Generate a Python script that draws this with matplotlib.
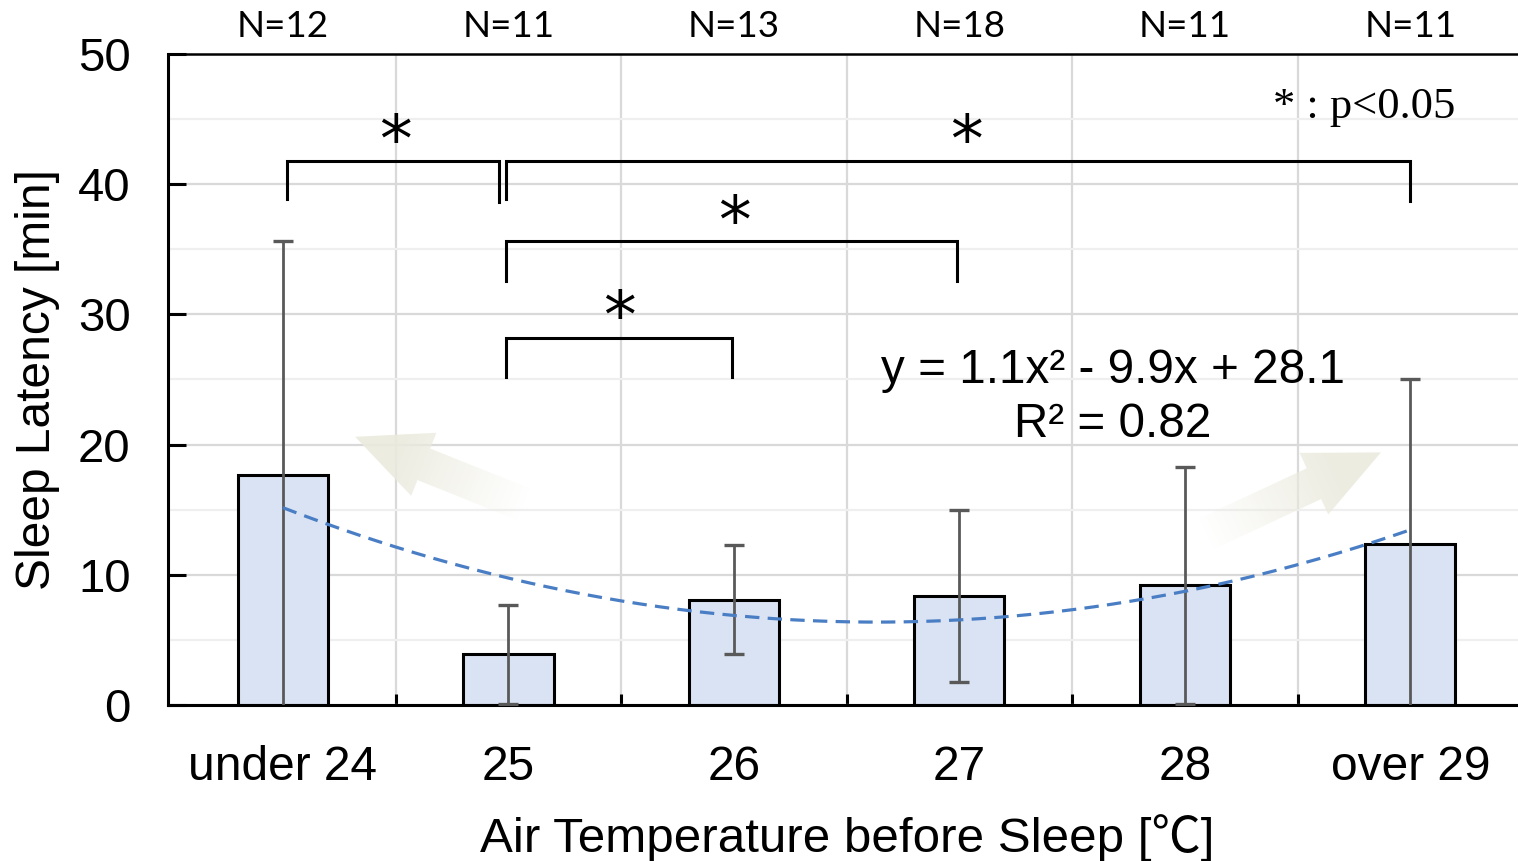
import numpy as np
import matplotlib.pyplot as plt
from matplotlib.patches import Polygon

plt.rcParams['font.family'] = ['Liberation Sans', 'Noto Sans CJK JP', 'DejaVu Sans']

categories = ["under 24", "25", "26", "27", "28", "over 29"]
n_counts = [12, 11, 13, 18, 11, 11]
latency_mean = [17.7, 3.9, 8.1, 8.4, 9.2, 12.4]
latency_sd = [17.9, 3.8, 4.2, 6.6, 9.1, 12.6]
# dashed quadratic trend line as drawn in the source, read at each category
trend_vals = [15.1, 9.8, 7.0, 6.4, 8.7, 13.5]
trend_label = "y = 1.1x\u00b2 - 9.9x + 28.1\nR\u00b2 = 0.82"

# significance brackets: x left, x right, y top, left leg end, right leg end
brk_left = [0.02, 0.99, 0.99, 0.99]
brk_right = [0.96, 5.0, 2.99, 1.99]
brk_top = [41.8, 41.8, 35.6, 28.2]
brk_leg_l = [38.9, 38.9, 32.6, 25.2]
brk_leg_r = [38.6, 38.7, 32.6, 25.2]
star_x = [0.5, 3.03, 2.0, 1.49]
star_y = [43.1, 43.1, 36.9, 29.6]

# decorative arrows (tail -> tip) in data units
arrow_tail = [(1.07, 15.4), (4.09, 13.1)]
arrow_tip = [(0.32, 20.6), (4.87, 19.4)]

W, H = 1518, 861
fig = plt.figure(figsize=(W / 100, H / 100), dpi=100)
ax = fig.add_axes([168 / W, 156 / H, 1355 / W, 651 / H])
ax.set_xlim(-0.51, 5.5)
ax.set_ylim(0, 50)

x = np.arange(len(categories))

ax.bar(x, latency_mean, 0.4, color='#DAE3F3', edgecolor='black', linewidth=2.2, zorder=2)
ax.errorbar(x, latency_mean, yerr=latency_sd, fmt='none', ecolor='#595959',
            elinewidth=2.0, capsize=7.5, capthick=2.4, zorder=3)

coef = np.polyfit(x, trend_vals, 2)
xs = np.linspace(0, 5, 300)
ax.plot(xs, np.polyval(coef, xs), color='#4A7EC4', lw=2.3, dashes=(4.5, 2.6), zorder=4)


def gradient_arrow(tail, tip, shaft_w=34, head_w=68, head_l=74):
    T = ax.transData
    p0 = T.transform(tail)
    p1 = T.transform(tip)
    d = p1 - p0
    L = np.hypot(*d)
    u = d / L
    n = np.array([-u[1], u[0]])
    base = p1 - u * head_l
    pts = [p0 + n * shaft_w / 2, base + n * shaft_w / 2, base + n * head_w / 2, p1,
           base - n * head_w / 2, base - n * shaft_w / 2, p0 - n * shaft_w / 2]
    pts = np.array(pts)
    poly = Polygon(T.inverted().transform(pts), closed=True, fill=False, lw=0)
    ax.add_patch(poly)
    xmin, ymin = pts.min(axis=0)
    xmax, ymax = pts.max(axis=0)
    gx, gy = np.meshgrid(np.linspace(xmin, xmax, 200), np.linspace(ymin, ymax, 200))
    t = ((gx - p0[0]) * u[0] + (gy - p0[1]) * u[1]) / L
    img = np.zeros((200, 200, 4))
    img[..., 0] = 0.925
    img[..., 1] = 0.918
    img[..., 2] = 0.872
    img[..., 3] = np.clip(t / 0.75, 0, 1) * 0.9
    (dx0, dy0), (dx1, dy1) = T.inverted().transform([[xmin, ymin], [xmax, ymax]])
    im = ax.imshow(img, extent=[dx0, dx1, dy0, dy1], origin='lower', aspect='auto',
                   interpolation='bilinear', zorder=1.5)
    im.set_clip_path(poly)


for tl, tp in zip(arrow_tail, arrow_tip):
    gradient_arrow(tl, tp)
ax.set_xlim(-0.51, 5.5)
ax.set_ylim(0, 50)

for xl, xr, yt, yl, yr in zip(brk_left, brk_right, brk_top, brk_leg_l, brk_leg_r):
    ax.plot([xl, xl, xr, xr], [yl, yt, yt, yr], color='black', lw=2.2,
            solid_joinstyle='miter', zorder=5)
for sx, sy in zip(star_x, star_y):
    ax.text(sx, sy, "*", fontsize=47, ha='center', va='center', zorder=6,
            family=['DejaVu Sans'])

ax.text(4.39, 45.9, "* : p<0.05", fontsize=32, family=['Liberation Serif'],
        ha='left', va='center')
ax.text(3.68, 23.6, trend_label, fontsize=34.3, ha='center', va='center',
        multialignment='center', linespacing=1.25, zorder=6)

for i, n in enumerate(n_counts):
    ax.text(i, 1.042, "N=%d" % n, fontsize=26.5, family=['Lato'], ha='center',
            va='center', transform=ax.get_xaxis_transform())

ax.set_xticks(x)
ax.set_xticklabels(categories, fontsize=34.5)
ax.set_xticks(np.arange(0.5, 5), minor=True)
ax.tick_params(axis='x', which='major', length=0, pad=29)
ax.tick_params(axis='x', which='minor', direction='in', length=8, width=2.2, color='black')
ax.set_yticks(range(0, 51, 10))
ax.set_yticks(range(5, 50, 10), minor=True)
ax.tick_params(axis='y', which='major', direction='in', length=13, width=2.2,
               labelsize=34, pad=27)
ax.tick_params(axis='y', which='minor', length=0)

ax.set_axisbelow(True)
ax.yaxis.grid(True, which='major', color='#D9D9D9', lw=1.6)
ax.yaxis.grid(True, which='minor', color='#EFEFEF', lw=1.6)
ax.xaxis.grid(True, which='minor', color='#D9D9D9', lw=1.6)

for s in ['left', 'bottom']:
    ax.spines[s].set_linewidth(2.2)
ax.spines['top'].set_linewidth(1.8)
ax.spines['right'].set_visible(False)

ax.set_ylabel("Sleep Latency [min]", fontsize=34.5)
ax.yaxis.set_label_coords(-0.08, 0.5)
ax.set_xlabel("Air Temperature before Sleep [\u2103]", fontsize=35.5)
ax.xaxis.set_label_coords(0.501, -0.168)

fig.savefig("out.png", dpi=100)
